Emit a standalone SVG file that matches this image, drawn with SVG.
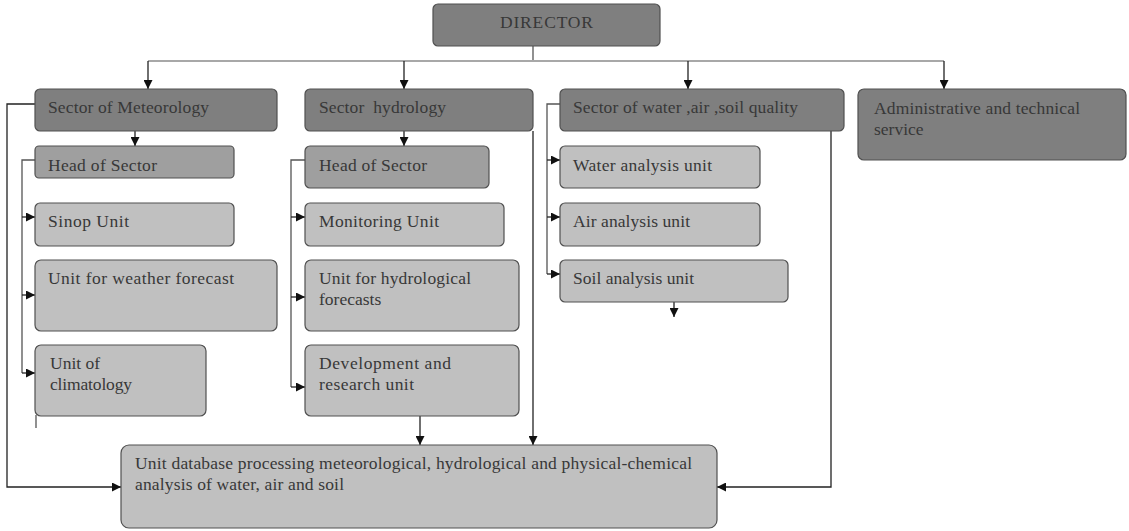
<svg xmlns="http://www.w3.org/2000/svg" width="1129" height="531" viewBox="0 0 1129 531">
<defs>
<marker id="ah" viewBox="0 0 10 10" refX="10" refY="5" markerWidth="9" markerHeight="9" markerUnits="userSpaceOnUse" orient="auto">
<path d="M0,0 L10,5 L0,10 z" fill="#111"/>
</marker>
<style>
.dark{fill:#7f7f7f;stroke:#505050;stroke-width:1.2}
.mid{fill:#9f9f9f;stroke:#505050;stroke-width:1.2}
.light{fill:#c0c0c0;stroke:#505050;stroke-width:1.2}
text{font-family:'Liberation Serif','DejaVu Serif',serif;font-size:17.5px;fill:#383838}
.ln{fill:none;stroke:#555;stroke-width:1.3}
.arr{fill:none;stroke:#222;stroke-width:1.3;marker-end:url(#ah)}
.top{fill:none;stroke:#a8a8a8;stroke-width:2}
</style>
</defs>
<rect width="1129" height="531" fill="#fff"/>
<g id="connectors">
<path class="ln" d="M533,46 V61"/>
<path class="top" d="M148,61 H944"/>
<path class="arr" d="M148,61 V89"/>
<path class="arr" d="M404,61 V89"/>
<path class="arr" d="M688,61 V89"/>
<path class="arr" d="M944,61 V89"/>
<path class="arr" d="M135,131 V146"/>
<path class="arr" d="M404,131 V146"/>
<path class="arr" d="M35,104 H7 V487 H121"/>
<path class="ln" d="M35,160 H22 V373"/>
<path class="arr" d="M22,217 H35"/>
<path class="arr" d="M22,295 H35"/>
<path class="arr" d="M22,373 H35"/>
<path class="ln" d="M36,415 V428"/>
<path class="ln" d="M305,160 H291 V387"/>
<path class="arr" d="M291,217 H305"/>
<path class="arr" d="M291,297 H305"/>
<path class="arr" d="M291,387 H305"/>
<path class="arr" d="M533,131 V445"/>
<path class="arr" d="M420,416 V445"/>
<path class="ln" d="M560,104 H547 V274"/>
<path class="arr" d="M547,160 H560"/>
<path class="arr" d="M547,217 H560"/>
<path class="arr" d="M547,274 H560"/>
<path class="arr" d="M674,302 V317"/>
<path class="arr" d="M831,131 V487 H717"/>
</g>
<g font-family="Liberation Serif, DejaVu Serif, serif">
<g id="director"><rect class="dark" x="433" y="4" width="227" height="42" rx="5"/><text x="546.5" y="28" text-anchor="middle" textLength="93">DIRECTOR</text></g>
<g id="sector-meteorology"><rect class="dark" x="35" y="89" width="242" height="42" rx="5"/><text x="48" y="113" textLength="161">Sector of Meteorology</text></g>
<g id="sector-hydrology"><rect class="dark" x="305" y="89" width="228" height="42" rx="5"/><text x="319" y="113" textLength="127" xml:space="preserve">Sector  hydrology</text></g>
<g id="sector-quality"><rect class="dark" x="560" y="89" width="284" height="42" rx="5"/><text x="573" y="113" textLength="225">Sector of water ,air ,soil quality</text></g>
<g id="admin"><rect class="dark" x="858" y="89" width="268" height="71" rx="6"/><text x="874" y="114" textLength="206">Administrative and technical</text><text x="874" y="135">service</text></g>
<g id="head-meteo"><rect class="mid" x="35" y="146" width="199" height="32" rx="4"/><text x="48" y="171" textLength="109">Head of Sector</text></g>
<g id="head-hydro"><rect class="mid" x="305" y="146" width="184" height="42" rx="5"/><text x="319" y="171" textLength="108">Head of Sector</text></g>
<g id="sinop"><rect class="light" x="35" y="203" width="199" height="43" rx="5"/><text x="48" y="227" textLength="81">Sinop Unit</text></g>
<g id="weather"><rect class="light" x="35" y="260" width="242" height="71" rx="6"/><text x="48" y="284" textLength="186">Unit for weather forecast</text></g>
<g id="climatology"><rect class="light" x="35" y="345" width="171" height="71" rx="6"/><text x="50" y="369">Unit of</text><text x="50" y="390" textLength="82">climatology</text></g>
<g id="monitoring"><rect class="light" x="305" y="203" width="199" height="43" rx="5"/><text x="319" y="227" textLength="120">Monitoring Unit</text></g>
<g id="hydro-forecasts"><rect class="light" x="305" y="260" width="214" height="71" rx="6"/><text x="319" y="284" textLength="152">Unit for hydrological</text><text x="319" y="305">forecasts</text></g>
<g id="development"><rect class="light" x="305" y="345" width="214" height="71" rx="6"/><text x="319" y="369" textLength="132">Development and</text><text x="319" y="390" textLength="95">research unit</text></g>
<g id="water"><rect class="light" x="560" y="146" width="200" height="42" rx="5"/><text x="573" y="171" textLength="139">Water analysis unit</text></g>
<g id="air"><rect class="light" x="560" y="203" width="200" height="43" rx="5"/><text x="573" y="227" textLength="117">Air analysis unit</text></g>
<g id="soil"><rect class="light" x="560" y="260" width="228" height="42" rx="5"/><text x="573" y="284" textLength="121">Soil analysis unit</text></g>
<g id="database"><rect class="light" x="121" y="445" width="596" height="83" rx="8"/><text x="135" y="469" textLength="557">Unit database processing meteorological, hydrological  and physical-chemical</text><text x="135" y="490" textLength="209">analysis of water, air and soil</text></g>
</g>
</svg>
